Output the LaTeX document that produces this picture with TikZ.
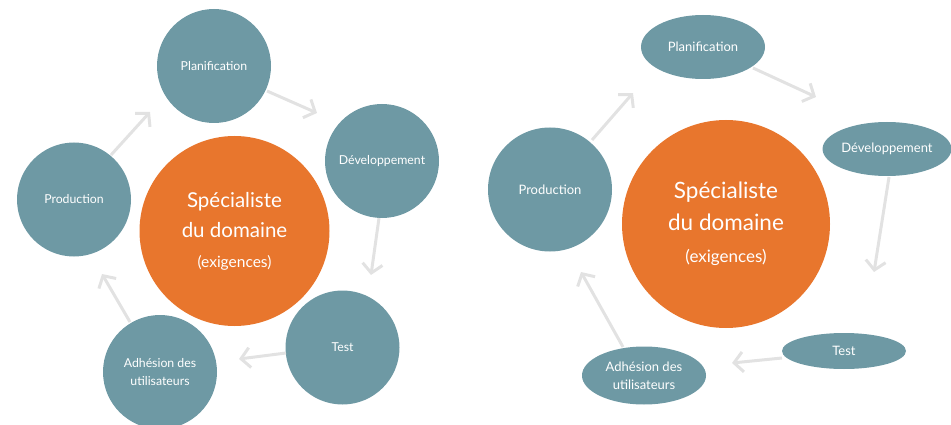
\documentclass[tikz,border=0pt]{standalone}
\usepackage{fontspec}
\setmainfont{Lato}
\usetikzlibrary{arrows.meta,shapes.geometric}
\definecolor{teal}{HTML}{6E99A4}
\definecolor{orng}{HTML}{E8762D}
\definecolor{arrgray}{HTML}{E2E2E2}
\tikzset{
  phase/.style={circle,fill=teal,draw=none,text=white,inner sep=0pt,minimum size=#1,align=center,font=\fontsize{12.3}{18}\selectfont},
  ephase/.style args={#1/#2}{ellipse,fill=teal,draw=none,text=white,inner sep=0pt,minimum width=#1,minimum height=#2,align=center,font=\fontsize{13}{18}\selectfont},
  core/.style={circle,fill=orng,draw=none,text=white,inner sep=0pt,minimum size=#1,align=center},
  arr/.style={draw=arrgray,line width=3pt,-{Straight Barb[length=9pt,width=20pt]}}
}
\begin{document}
\begin{tikzpicture}[x=1pt,y=-1pt]
\useasboundingbox (0,0) rectangle (951,425);
% ---------- left diagram ----------
\node[core=190pt,font=\fontsize{20.5}{30}\selectfont] (Lc) at (234.5,231) {Spécialiste\\du domaine\\{\fontsize{15.5}{18}\selectfont (exigences)}};
\node[phase=114pt] (Lpl) at (214,66) {Planification};
\node[phase=114pt] (Ldv) at (382,161) {Développement};
\node[phase=114pt] (Lts) at (342.5,347.5) {Test};
\node[phase=114pt] (Lad) at (160,372) {Adhésion des\\utilisateurs};
\node[phase=114pt] (Lpr) at (74,199.5) {Production};
\coordinate (l1s) at (111,155); \coordinate (l1e) at (150,112);
\coordinate (l2s) at (267,91);  \coordinate (l2e) at (317,113);
\coordinate (l3s) at (379,218); \coordinate (l3e) at (371,275);
\coordinate (l4s) at (286,353); \coordinate (l4e) at (239,359);
\coordinate (l5s) at (130,322); \coordinate (l5e) at (102,274);
\draw[arr] (l1s) -- (l1e);
\draw[arr] (l2s) -- (l2e);
\draw[arr] (l3s) -- (l3e);
\draw[arr] (l4s) -- (l4e);
\draw[arr] (l5s) -- (l5e);
% ---------- right diagram ----------
\node[core=208pt,font=\fontsize{22.5}{32}\selectfont] (Rc) at (726,224) {Spécialiste\\du domaine\\{\fontsize{17}{20}\selectfont (exigences)}};
\node[ephase=124pt/64pt] (Rpl) at (703,47) {Planification};
\node[ephase=124pt/54pt] (Rdv) at (887,149) {Développement};
\node[ephase=124pt/36pt] (Rts) at (844,351) {Test};
\node[ephase=124pt/58pt] (Rad) at (644,375.5) {Adhésion des\\utilisateurs};
\node[circle,fill=teal,text=white,inner sep=0pt,minimum size=124pt,font=\fontsize{13}{18}\selectfont] (Rpr) at (550,189.5) {Production};
\coordinate (r1s) at (592,140); \coordinate (r1e) at (633,93);
\coordinate (r2s) at (753,68);  \coordinate (r2e) at (816,97);
\coordinate (r3s) at (889,177); \coordinate (r3e) at (874,272);
\coordinate (r4s) at (782,358); \coordinate (r4e) at (732,363);
\coordinate (r5s) at (623,347); \coordinate (r5e) at (581,272);
\draw[arr] (r1s) -- (r1e);
\draw[arr] (r2s) -- (r2e);
\draw[arr] (r3s) -- (r3e);
\draw[arr] (r4s) -- (r4e);
\draw[arr] (r5s) -- (r5e);
\end{tikzpicture}
\end{document}
